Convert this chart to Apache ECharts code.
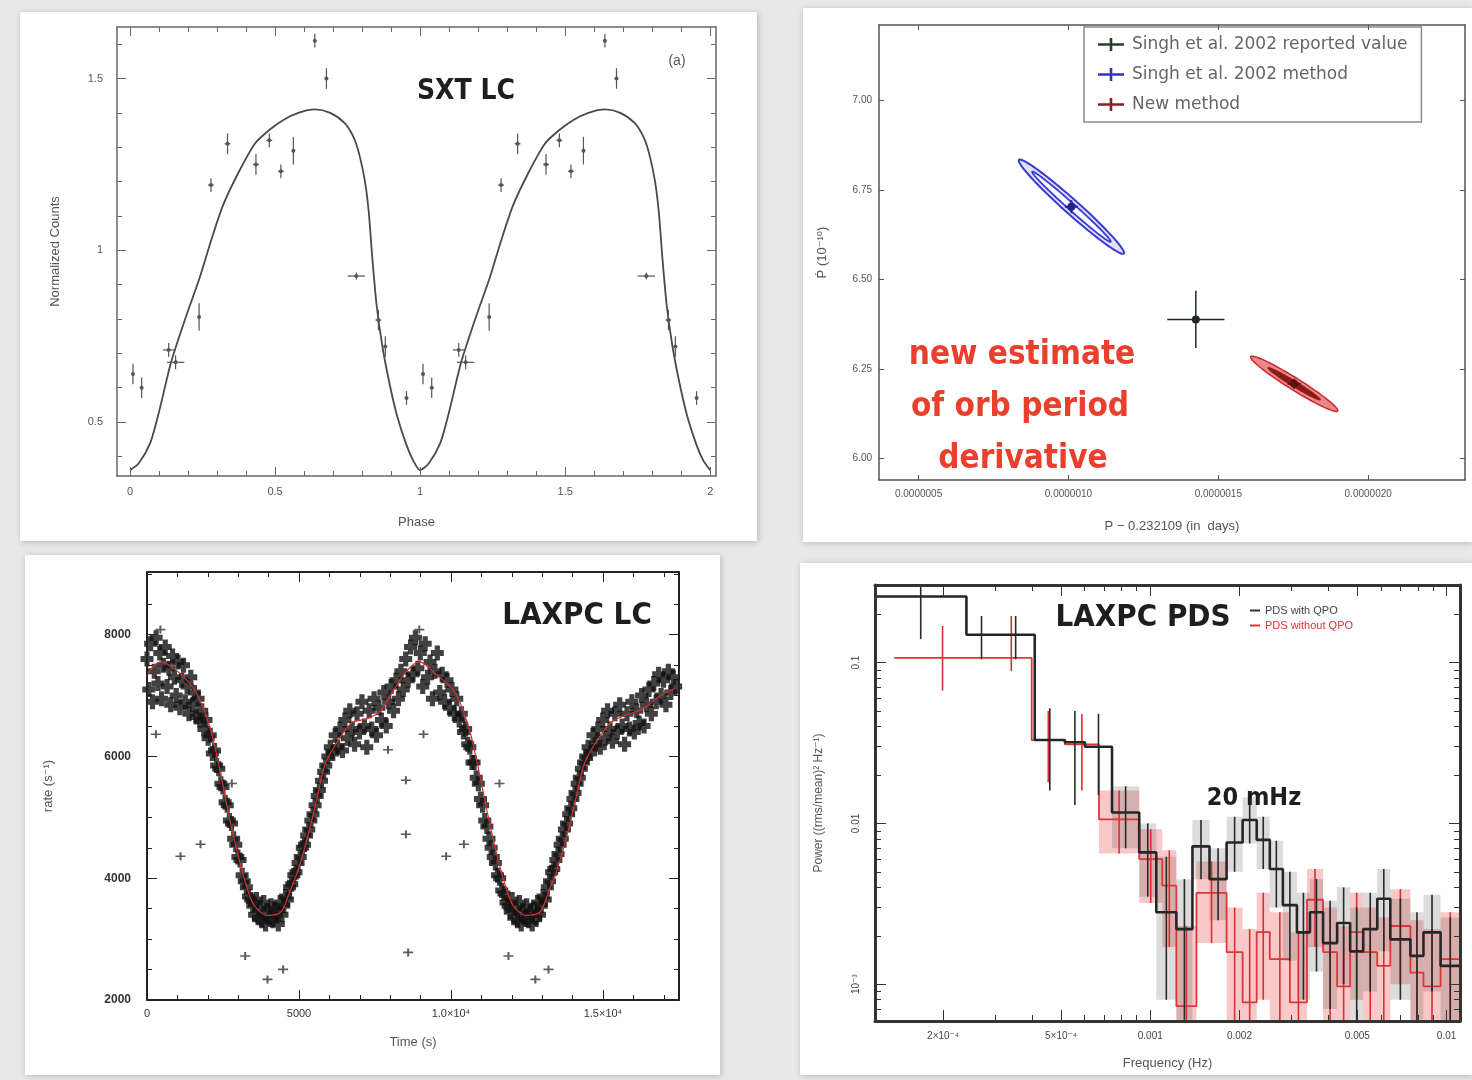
<!DOCTYPE html>
<html><head><meta charset="utf-8">
<script src="https://cdn.jsdelivr.net/npm/echarts@6/dist/echarts.min.js"></script>
<style>html,body{margin:0;padding:0;background:#e8e8e8}#c{width:1472px;height:1080px}</style>
</head><body><div id="c"></div>
<script>
// ================= DATA =================
// Panel (a) SXT light curve: [phase, normalized counts, phase error, count error]
const sxtPoints = [
  [0.01,0.64,0,0.03],[0.04,0.60,0,0.03],[0.133,0.71,0.02,0.02],[0.157,0.674,0.03,0.02],
  [0.238,0.806,0,0.04],[0.279,1.19,0.01,0.02],[0.336,1.31,0.01,0.03],[0.434,1.25,0.01,0.03],
  [0.48,1.32,0.01,0.02],[0.52,1.23,0.01,0.02],[0.563,1.29,0,0.04],[0.637,1.61,0,0.02],
  [0.677,1.50,0,0.03],[0.78,0.925,0.03,0.01],[0.856,0.797,0.01,0.03],[0.88,0.72,0,0.03],
  [0.953,0.57,0,0.02],
  [1.01,0.64,0,0.03],[1.04,0.60,0,0.03],[1.133,0.71,0.02,0.02],[1.157,0.674,0.03,0.02],
  [1.238,0.806,0,0.04],[1.279,1.19,0.01,0.02],[1.336,1.31,0.01,0.03],[1.434,1.25,0.01,0.03],
  [1.48,1.32,0.01,0.02],[1.52,1.23,0.01,0.02],[1.563,1.29,0,0.04],[1.637,1.61,0,0.02],
  [1.677,1.50,0,0.03],[1.78,0.925,0.03,0.01],[1.856,0.797,0.01,0.03],[1.88,0.72,0,0.03],
  [1.953,0.57,0,0.02]
];
const sxtModelPhase = [0,0.03,0.07,0.10,0.14,0.19,0.24,0.28,0.32,0.37,0.43,0.48,0.53,0.58,0.637,0.69,0.74,0.77,0.79,0.81,0.823,0.835,0.85,0.87,0.895,0.92,0.95,0.975,1.0,
  1.03,1.07,1.10,1.14,1.19,1.24,1.28,1.32,1.37,1.43,1.48,1.53,1.58,1.637,1.69,1.74,1.77,1.79,1.81,1.823,1.835,1.85,1.87,1.895,1.92,1.95,1.975,2.0];
const sxtModelCounts = [0.36,0.38,0.44,0.53,0.67,0.80,0.92,1.03,1.13,1.22,1.31,1.35,1.38,1.40,1.41,1.40,1.37,1.33,1.28,1.20,1.11,0.98,0.84,0.72,0.61,0.52,0.44,0.39,0.36,
  0.38,0.44,0.53,0.67,0.80,0.92,1.03,1.13,1.22,1.31,1.35,1.38,1.40,1.41,1.40,1.37,1.33,1.28,1.20,1.11,0.98,0.84,0.72,0.61,0.52,0.44,0.39,0.36];
const sxtXTicks = [0,0.5,1,1.5,2];
const sxtXLabels = ['0','0.5','1','1.5','2'];
const sxtYTicks = [0.5,1,1.5];
const sxtYLabels = ['0.5','1','1.5'];

// Panel (b) orbital period / derivative (x in units of 1e-7 day)
const reportedValue = [[14.25,6.388,0.955,0.080]];
const singhMethodCenter = [[10.10,6.703,0.22,0.018]];
const newMethodCenter = [[17.53,6.208,0.22,0.014]];
// ellipse: [centerX, centerY, majorEndX, majorEndY, minorEndX, minorEndY]
const singhMethodEllipses = [[10.10,6.703,11.85,6.572,9.94,6.688],[10.10,6.703,11.41,6.605,10.02,6.696]];
const newMethodEllipses = [[17.53,6.208,18.98,6.132,17.42,6.194],[17.53,6.208,18.41,6.163,17.48,6.201]];
const orbXTicks = [5,10,15,20];
const orbXLabels = ['0.0000005','0.0000010','0.0000015','0.0000020'];
const orbYTicks = [6.0,6.25,6.5,6.75,7.0];
const orbYLabels = ['6.00','6.25','6.50','6.75','7.00'];

// Panel (c) LAXPC light curve: [time (s), rate]
const laxpcPoints = [
 [0,7600],[60,7100],[120,7850],[180,6900],[240,7400],[300,7950],[360,7200],[420,7700],[480,6950],[540,7500],
 [600,7800],[660,7150],[720,7450],[780,6850],[840,7650],[900,7300],[960,7000],[1020,7550],[1080,6800],[1140,7250],
 [1200,7500],[1260,6900],[1320,7150],[1380,6700],[1440,7300],[1500,6850],[1560,7050],[1620,6650],[1680,6950],[1740,6600],
 [1800,6750],[1870,6450],[1940,6600],[2010,6300],[2080,6350],[2150,6050],[2220,6100],[2290,5850],[2360,5800],[2430,5550],
 [2500,5500],[2570,5250],[2640,5200],[2710,4950],[2780,4900],[2850,4650],[2920,4550],[2990,4350],[3060,4300],[3130,4050],
 [3200,3950],[3270,3850],[3340,3700],[3410,3650],
 [3480,3550],[3540,3400],[3600,3650],[3660,3350],[3720,3500],[3780,3300],[3840,3600],[3900,3250],[3960,3450],[4020,3350],
 [4080,3550],[4140,3300],[4200,3500],[4260,3400],[4320,3250],[4380,3600],[4440,3400],[4500,3550],[4560,3700],
 [4620,3650],[4690,3850],[4760,3900],[4830,4050],[4900,4100],[4970,4250],[5040,4350],[5110,4500],[5180,4550],[5250,4700],
 [5320,4800],[5390,4950],[5460,5050],[5530,5200],[5600,5350],[5670,5450],[5740,5600],[5810,5750],[5880,5850],[5950,6000],
 [6030,6150],[6110,6050],[6190,6350],[6270,6150],[6350,6450],[6430,6100],[6510,6600],[6590,6300],[6670,6750],[6750,6450],
 [6830,6200],[6910,6700],[6990,6400],[7070,6900],[7150,6500],[7230,6150],[7310,6750],[7390,6450],[7470,6950],[7550,6350],
 [7630,6800],[7710,6600],[7790,7050],[7870,6500],[7950,6900],[8030,7150],[8110,6750],
 [8190,7250],[8270,6950],[8350,7400],[8430,7100],[8510,7600],[8590,7250],
 [8670,7800],[8750,7350],[8830,7950],[8910,7450],[8990,7700],[9070,7150],[9150,7850],[9230,7300],[9310,7550],[9390,6950],
 [9470,7400],[9550,7700],[9630,7050],[9710,7350],[9790,6900],[9870,7250],[9950,6800],[10030,7100],[10110,6700],[10190,6950],[10270,6600],
 [10340,6700],[10410,6400],[10480,6450],[10550,6200],[10620,6150],[10690,5900],[10760,5900],[10830,5650],[10900,5550],[10970,5300],
 [11040,5200],[11110,4950],[11180,4850],[11250,4650],[11320,4500],[11390,4350],[11460,4250],[11530,4050],[11600,4000],[11670,3800],
 [11740,3750],[11810,3600],[11880,3550],
 [11950,3450],[12010,3650],[12070,3350],[12130,3500],[12190,3300],[12250,3600],[12310,3250],[12370,3450],[12430,3350],[12490,3550],
 [12550,3300],[12610,3450],[12670,3250],[12730,3500],[12790,3350],[12850,3600],[12910,3400],[12970,3550],[13030,3700],
 [13100,3650],[13170,3850],[13240,3950],[13310,4100],[13380,4150],[13450,4300],[13520,4400],[13590,4550],[13660,4650],[13730,4800],
 [13800,4900],[13870,5050],[13940,5150],[14010,5300],[14080,5400],[14150,5550],[14220,5650],[14290,5800],[14360,5900],[14430,6000],
 [14510,6150],[14590,6050],[14670,6350],[14750,6200],[14830,6450],[14910,6150],[14990,6600],[15070,6300],[15150,6750],[15230,6450],
 [15310,6250],[15390,6700],[15470,6400],[15550,6850],[15630,6500],[15710,6200],[15790,6700],[15870,6450],[15950,6900],[16030,6400],
 [16110,6750],[16190,6550],[16270,7000],[16350,6500],[16430,6850],[16510,7100],[16590,6700],[16670,7200],[16750,6900],[16830,7350],
 [16910,7000],[16990,7250],[17070,6850],[17150,7400],[17230,7050],[17310,7300],[17390,7150]
];
const laxpcOutliers = [[440,8084],[8957,8084],[293,6365],[9095,6365],[2790,5555],[11596,5555],[1760,4557],[10424,4557],
  [1102,4360],[9839,4360],[3230,2722],[11891,2722],[3964,2338],[12776,2338],[4477,2503],[13207,2503],
  [8516,5609],[8516,4722],[8590,2782],[7928,6110]];
const laxpcModel = [[0,7335],[440,7555],[1026,7389],[1615,7055],[2056,6500],[2352,5888],[2641,5165],[2936,4500],[3230,3944],
  [3523,3555],[3964,3390],[4405,3445],[4697,3778],[4992,4166],[5280,4672],[5576,5280],[5872,5888],[6313,6283],[6754,6562],
  [7188,6611],[7635,6726],[8076,7055],[8516,7389],[8957,7555],[9543,7335],[10132,7055],[10572,6500],[10865,5888],[11160,5165],
  [11454,4500],[11747,3944],[12040,3555],[12480,3390],[12921,3445],[13215,3778],[13503,4166],[13799,4672],[14095,5280],
  [14391,5888],[14832,6283],[15271,6562],[15707,6670],[16299,6780],[16888,7000],[17320,7110]];
const lcXTicks = [0,5000,10000,15000];
const lcXLabels = ['0','5000','1.0×10⁴','1.5×10⁴'];
const lcYTicks = [2000,4000,6000,8000];
const lcYLabels = ['2000','4000','6000','8000'];

// Panel (d) LAXPC PDS (log-log)
const pdsEdgesWith = [1.178e-4,2.397e-4,3.03e-4,4.076e-4,5.15e-4,6.02e-4,7.43e-4,9.18e-4,1.048e-3,1.225e-3,1.388e-3,1.585e-3,1.81e-3,
  2.05e-3,2.287e-3,2.532e-3,2.803e-3,3.126e-3,3.459e-3,3.83e-3,4.272e-3,4.727e-3,5.232e-3,5.836e-3,6.459e-3,7.551e-3,8.356e-3,9.544e-3,1.11e-2];
const pdsPowerWith = [0.258,0.149,0.149,0.033,0.032,0.030,0.0117,0.0066,0.0028,0.0022,0.0072,0.0045,0.0076,0.0105,0.0079,0.0052,0.0031,
  0.0021,0.0028,0.0018,0.0024,0.0016,0.0022,0.0034,0.0019,0.0015,0.0021,0.0013];
const pdsErrLoWith = [0.14,0.105,0.105,0.016,0.013,0.015,0.007,0.0035,0.0008,0.0006,0.0045,0.0025,0.005,0.0075,0.0052,0.003,0.0014,
  0.0008,0.0012,0.0007,0.001,0.0006,0.0009,0.0016,0.0008,0.0006,0.0009,0.0005];
const pdsErrHiWith = [0.40,0.195,0.195,0.052,0.050,0.048,0.017,0.010,0.0062,0.0045,0.0105,0.007,0.011,0.0145,0.011,0.0078,0.005,
  0.0037,0.0045,0.0033,0.004,0.003,0.0037,0.0052,0.0034,0.0028,0.0036,0.0026];
const pdsEdgesWithout = [1.367e-4,2.9e-4,3.981e-4,5.15e-4,6.715e-4,9.18e-4,1.098e-3,1.225e-3,1.432e-3,1.81e-3,2.05e-3,2.287e-3,2.532e-3,
  2.96e-3,3.38e-3,3.83e-3,4.272e-3,4.727e-3,5.232e-3,5.836e-3,6.459e-3,7.551e-3,8.356e-3,9.544e-3,1.11e-2];
const pdsPowerWithout = [0.107,0.107,0.033,0.031,0.0106,0.0060,0.0041,0.00073,0.0037,0.00158,0.00077,0.00211,0.00143,0.00077,0.00335,
  0.00158,0.00097,0.00211,0.00158,0.0013,0.0023,0.00118,0.00097,0.00143];
const pdsErrLoWithout = [0.067,0.0885,0.018,0.016,0.0065,0.0032,0.0017,0.0002,0.0018,0.0005,0.0002,0.0008,0.0005,0.0002,0.0017,0.0005,
  0.0003,0.0008,0.0005,0.0004,0.001,0.0004,0.0003,0.0005];
const pdsErrHiWithout = [0.169,0.195,0.05,0.048,0.016,0.0092,0.0068,0.0023,0.0058,0.003,0.0022,0.0037,0.0028,0.0021,0.0052,0.003,
  0.0023,0.0037,0.003,0.0026,0.0039,0.0025,0.0022,0.0028];
const pdsXTicks = [0.0002,0.0005,0.001,0.002,0.005,0.01];
const pdsXLabels = ['2×10⁻⁴','5×10⁻⁴','0.001','0.002','0.005','0.01'];
const pdsYTicks = [0.001,0.01,0.1];
const pdsYLabels = ['10⁻³','0.01','0.1'];

// ================= BUILD =================
const TICKFONT = 'Liberation Sans, DejaVu Sans, sans-serif';
const TITLEFONT = "'Liberation Sans Narrow','DejaVu Sans Condensed','Liberation Sans',sans-serif";
const xAxes = [], yAxes = [];
function labelFmt(vals, labels) {
  return function (v) {
    let best = 0, bd = Infinity;
    vals.forEach((t, i) => { const d = Math.abs(Math.log(Math.abs(t) + 1e-12) - Math.log(Math.abs(v) + 1e-12)) + Math.abs(t - v); if (d < bd) { bd = d; best = i; } });
    return labels[best];
  };
}
function rangeVals(a, b, s) { const out = []; for (let v = a; v <= b + 1e-9; v += s) out.push(+v.toFixed(6)); return out; }
function addAxes(kind, grid, s) {
  const list = kind === 'x' ? xAxes : yAxes;
  const sides = kind === 'x' ? ['bottom', 'top'] : ['left', 'right'];
  const common = { gridIndex: grid, type: s.type || 'value', min: s.min, max: s.max, splitLine: { show: false }, silent: true, z: 5 };
  if (s.type === 'log') common.logBase = 10;
  const lineSt = { color: s.color, width: s.lw };
  const tickSt = { color: s.color, width: s.tw || 1 };
  const main = list.length;
  list.push(Object.assign({}, common, {
    position: sides[0], name: s.name, nameLocation: 'middle', nameGap: s.nameGap,
    nameTextStyle: { fontSize: s.nameSize || 13, color: s.nameColor || '#555', fontFamily: TICKFONT },
    axisLine: { show: true, onZero: false, lineStyle: lineSt },
    axisTick: { show: true, inside: true, length: s.majorLen, customValues: s.major, lineStyle: tickSt },
    axisLabel: { show: true, customValues: s.major, formatter: labelFmt(s.major, s.labels), margin: s.margin, rotate: s.rotate || 0,
      color: s.labelColor || '#555', fontSize: s.labelSize || 11, fontWeight: s.labelWeight || 'normal', fontFamily: TICKFONT, hideOverlap: false }
  }));
  list.push(Object.assign({}, common, { position: sides[1],
    axisLine: { show: true, onZero: false, lineStyle: lineSt },
    axisTick: { show: true, inside: true, length: s.majorLen, customValues: s.major, lineStyle: tickSt },
    axisLabel: { show: false } }));
  if (s.minor && s.minor.length) {
    [0, 1].forEach(k => list.push(Object.assign({}, common, { position: sides[k],
      axisLine: { show: false, onZero: false },
      axisTick: { show: true, inside: true, length: s.minorLen, customValues: s.minor, lineStyle: tickSt },
      axisLabel: { show: false } })));
  }
  return main;
}

// Panel (a)
const ax0 = addAxes('x', 0, { min: -0.045, max: 2.02, major: sxtXTicks, labels: sxtXLabels, minor: rangeVals(0, 2, 0.1),
  majorLen: 9, minorLen: 5, color: '#666', lw: 1.5, margin: 10, name: 'Phase', nameGap: 40 });
const ay0 = addAxes('y', 0, { min: 0.343, max: 1.65, major: sxtYTicks, labels: sxtYLabels, minor: rangeVals(0.4, 1.6, 0.1),
  majorLen: 9, minorLen: 5, color: '#666', lw: 1.5, margin: 14, name: 'Normalized Counts', nameGap: 55 });
// Panel (b)
const ax1 = addAxes('x', 1, { min: 3.68, max: 23.23, major: orbXTicks, labels: orbXLabels, minor: [],
  majorLen: 5, minorLen: 3, color: '#555', lw: 1.5, margin: 9, labelSize: 10, name: 'P − 0.232109 (in  days)', nameGap: 40 });
const ay1 = addAxes('y', 1, { min: 5.939, max: 7.211, major: orbYTicks, labels: orbYLabels, minor: [],
  majorLen: 5, minorLen: 3, color: '#555', lw: 1.5, margin: 7, labelSize: 10, name: 'Ṗ (10⁻¹⁰)', nameGap: 50 });
// Panel (c)
const ax2 = addAxes('x', 2, { min: 0, max: 17500, major: lcXTicks, labels: lcXLabels, minor: rangeVals(0, 17000, 1000),
  majorLen: 10, minorLen: 5, color: '#222', lw: 2, margin: 8, labelSize: 11, labelColor: '#333', name: 'Time (s)', nameGap: 36 });
const ay2 = addAxes('y', 2, { min: 2000, max: 9030, major: lcYTicks, labels: lcYLabels, minor: rangeVals(2000, 9000, 500),
  majorLen: 10, minorLen: 5, color: '#222', lw: 2, margin: 16, labelSize: 12, labelColor: '#333', labelWeight: 'bold', name: 'rate (s⁻¹)', nameGap: 92 });
// Panel (d)
const pdsXMinor = [2e-4,3e-4,4e-4,5e-4,6e-4,7e-4,8e-4,9e-4,1e-3,2e-3,3e-3,4e-3,5e-3,6e-3,7e-3,8e-3,9e-3,1e-2];
const pdsYMinor = [6e-4,7e-4,8e-4,9e-4,1e-3,2e-3,3e-3,4e-3,5e-3,6e-3,7e-3,8e-3,9e-3,1e-2,2e-2,3e-2,4e-2,5e-2,6e-2,7e-2,8e-2,9e-2,0.1,0.2,0.3];
const ax3 = addAxes('x', 3, { type: 'log', min: 1.178e-4, max: 0.0111, major: pdsXTicks, labels: pdsXLabels, minor: pdsXMinor,
  majorLen: 11, minorLen: 6, color: '#333', lw: 3, margin: 10, labelSize: 10, labelColor: '#444', name: 'Frequency (Hz)', nameGap: 36 });
const ay3 = addAxes('y', 3, { type: 'log', min: 5.9e-4, max: 0.304, major: pdsYTicks, labels: pdsYLabels, minor: pdsYMinor,
  majorLen: 11, minorLen: 6, color: '#333', lw: 3, margin: 14, rotate: 90, labelSize: 10, labelColor: '#444', name: 'Power ((rms/mean)² Hz⁻¹)', nameGap: 50, nameSize: 12 });

function errCross(color, lw, r) {
  return function (params, api) {
    const x = api.value(0), y = api.value(1), xe = api.value(2), ye = api.value(3);
    const c = api.coord([x, y]);
    const ch = [];
    if (xe > 0) { const a = api.coord([x - xe, y]), b = api.coord([x + xe, y]);
      ch.push({ type: 'line', shape: { x1: a[0], y1: a[1], x2: b[0], y2: b[1] }, style: { stroke: color, lineWidth: lw } }); }
    if (ye > 0) { const a = api.coord([x, y - ye]), b = api.coord([x, y + ye]);
      ch.push({ type: 'line', shape: { x1: a[0], y1: a[1], x2: b[0], y2: b[1] }, style: { stroke: color, lineWidth: lw } }); }
    ch.push({ type: 'circle', shape: { cx: c[0], cy: c[1], r: r }, style: { fill: color } });
    return { type: 'group', children: ch };
  };
}
function ellipseRender(styles) {
  return function (params, api) {
    const c = api.coord([api.value(0), api.value(1)]);
    const m = api.coord([api.value(2), api.value(3)]);
    const n = api.coord([api.value(4), api.value(5)]);
    const rx = Math.hypot(m[0] - c[0], m[1] - c[1]);
    const ry = Math.hypot(n[0] - c[0], n[1] - c[1]);
    const ux = (m[0] - c[0]) / rx, uy = (m[1] - c[1]) / rx, vx = -uy, vy = ux;
    const pts = [];
    for (let k = 0; k < 90; k++) { const t = 2 * Math.PI * k / 90;
      pts.push([c[0] + rx * Math.cos(t) * ux + ry * Math.sin(t) * vx, c[1] + rx * Math.cos(t) * uy + ry * Math.sin(t) * vy]); }
    return { type: 'polygon', shape: { points: pts }, style: styles[params.dataIndex] };
  };
}
function pdsErrData(edges, lo, hi) {
  return lo.map((l, i) => [Math.sqrt(edges[i] * edges[i + 1]), l, hi[i], edges[i], edges[i + 1]]);
}
function pdsStep(edges, p) {
  const d = p.map((v, i) => [edges[i], v]); d.push([edges[edges.length - 1], p[p.length - 1]]); return d;
}
function clampY(y, cs) { return Math.max(cs.y, Math.min(cs.y + cs.height, y)); }
function pdsShade(fill) {
  return function (params, api) {
    const xc = api.value(0);
    if (xc < 7e-4) return null;
    const a = api.coord([api.value(3), api.value(2)]), b = api.coord([api.value(4), api.value(1)]);
    const cs = params.coordSys;
    const r = echarts.graphic.clipRectByRect({ x: a[0], y: a[1], width: b[0] - a[0], height: b[1] - a[1] }, cs);
    if (!r) return null;
    return { type: 'rect', shape: r, style: { fill: fill } };
  };
}
function pdsBar(color, lw) {
  return function (params, api) {
    const xc = api.value(0);
    const a = api.coord([xc, api.value(2)]), b = api.coord([xc, api.value(1)]);
    const cs = params.coordSys;
    return { type: 'line', shape: { x1: a[0], y1: clampY(a[1], cs), x2: b[0], y2: clampY(b[1], cs) }, style: { stroke: color, lineWidth: lw } };
  };
}

const thickPlus = 'path://M3,0h4v3h3v4h-3v3h-4v-3h-3v-4h3z';
const series = [
  // (a)
  { type: 'line', name: 'SXT model', xAxisIndex: ax0, yAxisIndex: ay0, data: sxtModelPhase.map((p, i) => [p, sxtModelCounts[i]]),
    showSymbol: false, smooth: 0.25, lineStyle: { color: '#4a4a4a', width: 1.8 }, z: 3 },
  { type: 'custom', name: 'SXT data', xAxisIndex: ax0, yAxisIndex: ay0, data: sxtPoints, encode: { x: 0, y: 1 },
    renderItem: errCross('#555', 1.2, 2), z: 4 },
  // (b)
  { type: 'custom', name: 'Singh et al. 2002 method', xAxisIndex: ax1, yAxisIndex: ay1, data: singhMethodEllipses, encode: { x: [0, 2, 4], y: [1, 3, 5] },
    renderItem: ellipseRender([{ fill: 'rgba(90,90,230,0.18)', stroke: '#3a3ad0', lineWidth: 2 }, { fill: 'rgba(255,255,255,0.85)', stroke: '#3a3ad0', lineWidth: 1.8 }]), z: 3 },
  { type: 'custom', name: 'New method', xAxisIndex: ax1, yAxisIndex: ay1, data: newMethodEllipses, encode: { x: [0, 2, 4], y: [1, 3, 5] },
    renderItem: ellipseRender([{ fill: 'rgba(215,40,40,0.55)', stroke: '#d02828', lineWidth: 1.5 }, { fill: '#8a1818', stroke: '#a01c1c', lineWidth: 1 }]), z: 3 },
  { type: 'custom', name: 'Singh et al. 2002 method', xAxisIndex: ax1, yAxisIndex: ay1, data: singhMethodCenter, encode: { x: 0, y: 1 },
    renderItem: errCross('#23238a', 2, 4), z: 4 },
  { type: 'custom', name: 'New method', xAxisIndex: ax1, yAxisIndex: ay1, data: newMethodCenter, encode: { x: 0, y: 1 },
    renderItem: errCross('#5a1010', 2, 4), z: 4 },
  { type: 'custom', name: 'Singh et al. 2002 reported value', xAxisIndex: ax1, yAxisIndex: ay1, data: reportedValue, encode: { x: 0, y: 1 },
    renderItem: errCross('#1f2a1f', 1.5, 4), z: 4 },
  // (c)
  { type: 'scatter', name: 'LAXPC', xAxisIndex: ax2, yAxisIndex: ay2, data: laxpcPoints,
    symbol: thickPlus, symbolSize: [13, 15], itemStyle: { color: '#111' }, z: 3 },
  { type: 'scatter', name: 'LAXPC outliers', xAxisIndex: ax2, yAxisIndex: ay2, data: laxpcOutliers,
    symbol: 'path://M4,0h2v4h4v2h-4v4h-2v-4h-4v-2h4z', symbolSize: [10, 8], itemStyle: { color: '#333' }, z: 3 },
  { type: 'line', name: 'LAXPC model', xAxisIndex: ax2, yAxisIndex: ay2, data: laxpcModel, showSymbol: false, smooth: 0.3,
    lineStyle: { color: '#d83030', width: 1.2 }, z: 4 },
  // (d)
  { type: 'custom', name: 'PDS without QPO', xAxisIndex: ax3, yAxisIndex: ay3, data: pdsErrData(pdsEdgesWithout, pdsErrLoWithout, pdsErrHiWithout),
    encode: { x: [0, 3, 4], y: [1, 2] }, renderItem: pdsShade('rgba(236,90,90,0.33)'), z: 2 },
  { type: 'custom', name: 'PDS with QPO', xAxisIndex: ax3, yAxisIndex: ay3, data: pdsErrData(pdsEdgesWith, pdsErrLoWith, pdsErrHiWith),
    encode: { x: [0, 3, 4], y: [1, 2] }, renderItem: pdsShade('rgba(40,40,40,0.16)'), z: 2 },
  { type: 'line', name: 'PDS without QPO', xAxisIndex: ax3, yAxisIndex: ay3, data: pdsStep(pdsEdgesWithout, pdsPowerWithout), step: 'end',
    showSymbol: false, lineStyle: { color: '#e03535', width: 1.8 }, z: 3 },
  { type: 'line', name: 'PDS with QPO', xAxisIndex: ax3, yAxisIndex: ay3, data: pdsStep(pdsEdgesWith, pdsPowerWith), step: 'end',
    showSymbol: false, lineStyle: { color: '#262626', width: 2.6 }, z: 4 },
  { type: 'custom', name: 'PDS without QPO', xAxisIndex: ax3, yAxisIndex: ay3, data: pdsErrData(pdsEdgesWithout, pdsErrLoWithout, pdsErrHiWithout),
    encode: { x: [0, 3, 4], y: [1, 2] }, renderItem: pdsBar('#d83030', 1.6), z: 3 },
  { type: 'custom', name: 'PDS with QPO', xAxisIndex: ax3, yAxisIndex: ay3, data: pdsErrData(pdsEdgesWith, pdsErrLoWith, pdsErrHiWith),
    encode: { x: [0, 3, 4], y: [1, 2] }, renderItem: pdsBar('#2a2a2a', 1.6), z: 4 }
];

const cards = [[20, 12, 737, 529], [803, 8, 669, 534], [25, 555, 695, 520], [800, 563, 672, 512]];
const texts = [
  { t: 'SXT LC', x: 466, y: 92, f: 'bold 28px ' + TITLEFONT, c: '#1e1e1e' },
  { t: '(a)', x: 677, y: 61, f: '14px ' + TICKFONT, c: '#555' },
  { t: 'new estimate', x: 1022, y: 355, f: 'bold 33px ' + TITLEFONT, c: '#e8402c' },
  { t: 'of orb period', x: 1020, y: 407, f: 'bold 33px ' + TITLEFONT, c: '#e8402c' },
  { t: 'derivative', x: 1023, y: 459, f: 'bold 33px ' + TITLEFONT, c: '#e8402c' },
  { t: 'LAXPC LC', x: 577, y: 616, f: 'bold 31px ' + TITLEFONT, c: '#1e1e1e' },
  { t: 'LAXPC PDS', x: 1143, y: 618, f: 'bold 31px ' + TITLEFONT, c: '#1e1e1e' },
  { t: '20 mHz', x: 1254, y: 798, f: 'bold 25px ' + TITLEFONT, c: '#1e1e1e' }
];
const graphicEls = cards.map(r => ({ type: 'rect', z: -10, shape: { x: r[0], y: r[1], width: r[2], height: r[3] },
  style: { fill: '#ffffff', shadowBlur: 6, shadowColor: 'rgba(0,0,0,0.22)', shadowOffsetX: 1, shadowOffsetY: 1 } }))
  .concat(texts.map(t => ({ type: 'text', z: 20, x: t.x, y: t.y,
    style: { text: t.t, font: t.f, fill: t.c, textAlign: 'center', textVerticalAlign: 'middle' } })));

const crossIcon = 'path://M0,4h9v-4h2v4h9v2h-9v4h-2v-4h-9z';
const option = {
  backgroundColor: '#e8e8e8',
  animation: false,
  grid: [
    { left: 117, top: 27, width: 599, height: 449, containLabel: false, outerBoundsMode: 'none' },
    { left: 879, top: 25, width: 586, height: 455, containLabel: false, outerBoundsMode: 'none' },
    { left: 147, top: 572, width: 532, height: 428, containLabel: false, outerBoundsMode: 'none' },
    { left: 875, top: 585, width: 585, height: 436, containLabel: false, outerBoundsMode: 'none' }
  ],
  xAxis: xAxes,
  yAxis: yAxes,
  legend: [
    { left: 1084, top: 27, orient: 'vertical', padding: [9, 14, 9, 14], itemGap: 13, itemWidth: 32, itemHeight: 13,
      backgroundColor: '#fff', borderColor: '#8a8a8a', borderWidth: 1.5, selectedMode: false,
      textStyle: { fontSize: 17, color: '#666', fontFamily: 'DejaVu Sans, sans-serif' },
      data: [
        { name: 'Singh et al. 2002 reported value', icon: crossIcon, itemStyle: { color: '#2d3d2d' } },
        { name: 'Singh et al. 2002 method', icon: crossIcon, itemStyle: { color: '#3434b8' } },
        { name: 'New method', icon: crossIcon, itemStyle: { color: '#8a1e1e' } }
      ] },
    { left: 1250, top: 605, orient: 'vertical', itemGap: 4, itemWidth: 10, itemHeight: 2, selectedMode: false, padding: 0,
      textStyle: { fontSize: 11, fontFamily: TICKFONT },
      data: [
        { name: 'PDS with QPO', icon: 'rect', itemStyle: { color: '#333' }, textStyle: { color: '#444' } },
        { name: 'PDS without QPO', icon: 'rect', itemStyle: { color: '#e03535' }, textStyle: { color: '#e03535' } }
      ] }
  ],
  graphic: { elements: graphicEls },
  series: series
};
const chart = echarts.init(document.getElementById('c'), null, { renderer: 'canvas' });
chart.setOption(option);
</script>
</body></html>
